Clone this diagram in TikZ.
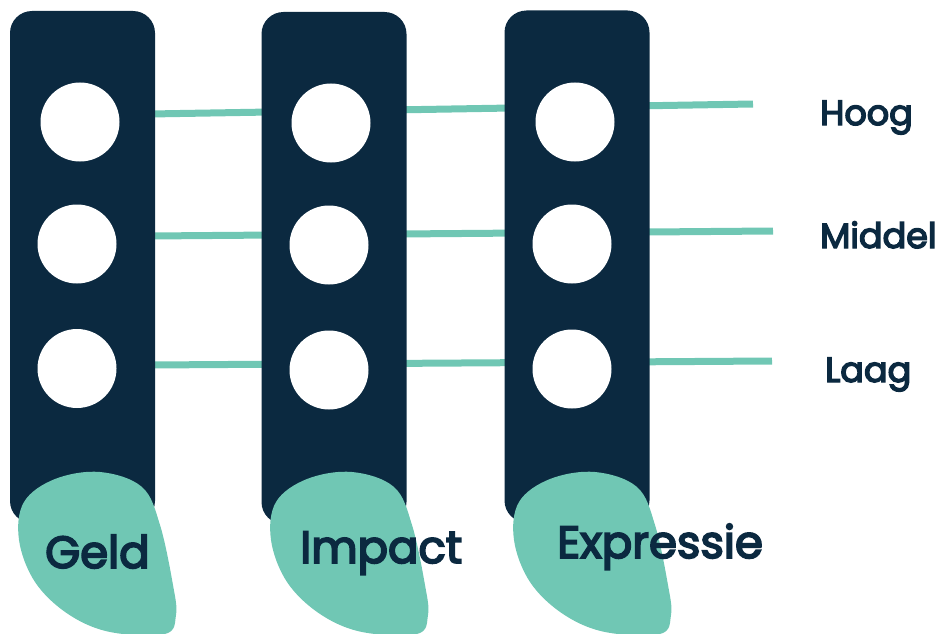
\documentclass[tikz,border=0pt]{standalone}
\usepackage{fontspec}
\setmainfont{Poppins}
\newfontfamily\lblfont[FakeBold=4]{Poppins}
\definecolor{navy}{HTML}{0B2940}
\definecolor{teal}{HTML}{70C7B4}
\begin{document}
\begin{tikzpicture}[x=1pt,y=-1pt,
  colbox/.style={fill=navy, draw=none, rounded corners=22pt, minimum width=145pt, minimum height=512pt, inner sep=0pt},
  dot/.style={circle, fill=white, draw=none, minimum size=79pt, inner sep=0pt},
  link/.style={draw=teal, line width=7pt},
  blob/.style={fill=teal, draw=none},
  lvl/.style={text=navy, font=\lblfont\fontsize{35}{40}\selectfont, anchor=base west, inner sep=0pt},
  cat/.style={text=navy, font=\lblfont\fontsize{45}{50}\selectfont, anchor=base west, inner sep=0pt}]
\useasboundingbox (0,0) rectangle (938,634);
% connectors
\coordinate (h0) at (150,114); \coordinate (h1) at (753,104);
\coordinate (m0) at (150,236); \coordinate (m1) at (773,231);
\coordinate (l0) at (150,365); \coordinate (l1) at (772,361);
\draw[link] (h0) -- (h1);
\draw[link] (m0) -- (m1);
\draw[link] (l0) -- (l1);
% columns
\node[colbox] (c1) at (82.5,267) {};
\node[colbox] (c2) at (334,268) {};
\node[colbox] (c3) at (577,266.5) {};
% circles
\node[dot] (c1a) at (80,122) {};
\node[dot] (c1b) at (77,244) {};
\node[dot] (c1c) at (77,368.5) {};
\node[dot] (c2a) at (331,123) {};
\node[dot] (c2b) at (329,245) {};
\node[dot] (c2c) at (329,370) {};
\node[dot] (c3a) at (575,122) {};
\node[dot] (c3b) at (572,244) {};
\node[dot] (c3c) at (572,369) {};
% blobs
\foreach \dx in {0,252,495}{
  \fill[blob, xshift=\dx pt] plot[smooth cycle, tension=0.6] coordinates {
    (100,472) (142,487) (160,525) (173,585) (176,615) (165,634) (110,632) (68,614) (35,582) (19,540) (24,502) (55,479)};
}
% labels
\node[cat] (geld) at (45,568) {Geld};
\node[cat] (impact) at (300,563) {Impact};
\node[cat] (expr) at (557,558) {Expressie};
\node[lvl] (hoog) at (820,125) {Hoog};
\node[lvl] (middel) at (820,248) {Middel};
\node[lvl] (laag) at (825,382) {Laag};
\end{tikzpicture}
\end{document}
